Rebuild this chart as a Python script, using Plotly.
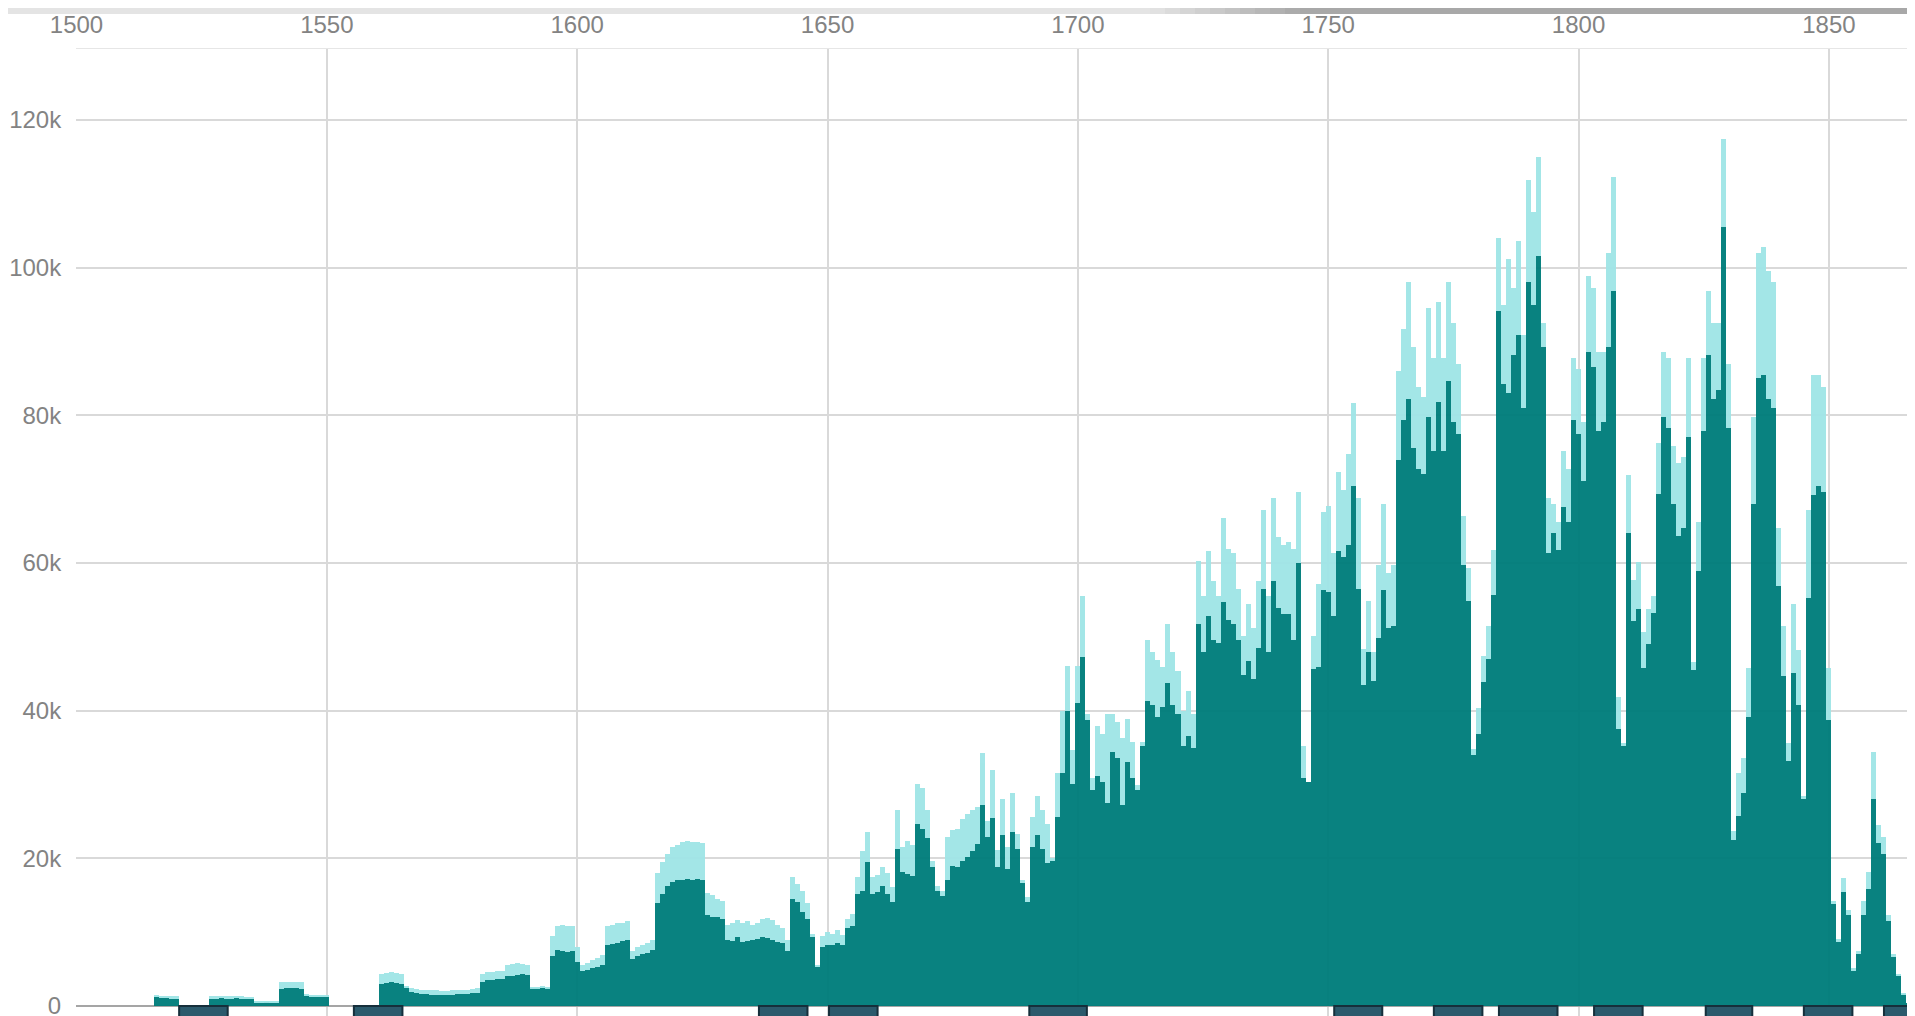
import plotly.graph_objects as go

# ---------------- data (values in thousands, one value per year) ----------------
years = list(range(1510, 1870))

# dark teal series (lower stack)
dark_k = [
    0, 0, 0, 0, 0, 0, 1.2, 1.1, 1.1, 1.0,                 # 1510s
    1.0, 0, 0, 0, 0, 0, 0, 1.0, 1.0, 1.1,                 # 1520s
    1.0, 1.0, 1.1, 1.0, 1.0, 0.9, 0.45, 0.45, 0.5, 0.45,  # 1530s
    0.45, 2.3, 2.4, 2.4, 2.4, 2.3, 1.3, 1.2, 1.2, 1.2,    # 1540s
    1.2, 0, 0, 0, 0, 0, 0, 0, 0, 0,                       # 1550s
    0, 3.0, 3.1, 3.2, 3.1, 3.0, 2.4, 1.9, 1.7, 1.6,       # 1560s
    1.6, 1.5, 1.5, 1.5, 1.5, 1.5, 1.6, 1.6, 1.6, 1.7,     # 1570s
    1.8, 3.3, 3.5, 3.5, 3.6, 3.7, 4.0, 4.1, 4.2, 4.3,     # 1580s
    4.2, 2.4, 2.4, 2.5, 2.4, 6.8, 7.6, 7.5, 7.3, 7.4,     # 1590s
    6.0, 4.8, 4.9, 5.1, 5.3, 5.6, 8.2, 8.4, 8.6, 8.8,     # 1600s
    9.0, 6.4, 6.8, 7.0, 7.2, 7.6, 14.0, 15.2, 16.2, 16.8, # 1610s
    17.0, 17.1, 17.2, 17.1, 17.2, 17.1, 12.3, 12.1, 12.0, 11.8,  # 1620s
    9.0, 8.8, 9.3, 8.7, 8.8, 8.9, 9.1, 9.4, 9.2, 9.0,     # 1630s
    8.7, 8.5, 7.5, 14.5, 14.1, 12.7, 11.8, 9.4, 5.3, 8.0, # 1640s
    8.2, 8.3, 8.6, 8.2, 10.5, 10.9, 15.2, 15.6, 19.5, 15.2,      # 1650s
    15.4, 16.2, 15.2, 14.1, 21.3, 18.2, 17.9, 17.6, 24.7, 24.0,  # 1660s
    22.8, 18.8, 15.6, 14.9, 17.0, 19.0, 18.8, 19.6, 20.2, 21.0,  # 1670s
    22.0, 27.2, 22.9, 25.4, 18.8, 23.1, 18.6, 23.6, 21.3, 16.6,  # 1680s
    14.1, 21.5, 23.1, 21.3, 19.3, 19.7, 25.6, 31.5, 40.0, 30.0,  # 1690s
    41.0, 47.2, 38.7, 29.3, 31.2, 30.4, 27.5, 34.4, 33.6, 27.2,  # 1700s
    33.1, 30.9, 29.3, 35.2, 41.3, 40.8, 39.2, 40.5, 43.7, 40.8,  # 1710s
    39.5, 35.2, 36.5, 34.9, 51.7, 48.0, 52.8, 49.6, 49.1, 54.7,  # 1720s
    52.3, 51.7, 49.6, 44.8, 46.7, 44.3, 48.5, 56.5, 48.0, 57.6,  # 1730s
    53.9, 53.1, 53.1, 49.6, 60.0, 30.9, 30.4, 45.6, 45.9, 56.3,  # 1740s
    56.0, 52.8, 61.6, 60.8, 62.4, 70.4, 56.5, 43.5, 48.0, 44.0,  # 1750s
    49.9, 56.3, 51.2, 51.5, 74.0, 79.4, 82.2, 75.5, 72.7, 72.0,  # 1760s
    79.8, 75.1, 81.8, 75.1, 84.6, 79.1, 77.5, 59.7, 54.9, 34.0,  # 1770s
    36.8, 43.9, 47.0, 55.7, 94.1, 84.2, 83.0, 88.1, 90.9, 81.0,  # 1780s
    98.0, 94.9, 101.6, 89.3, 61.3, 64.0, 61.7, 67.6, 65.6, 79.4, # 1790s
    77.5, 71.1, 88.5, 86.6, 77.9, 79.1, 89.3, 96.8, 37.5, 35.2,  # 1800s
    64.0, 52.2, 53.8, 45.8, 49.0, 53.2, 69.4, 79.8, 78.3, 68.0,  # 1810s
    63.6, 64.8, 77.1, 45.5, 58.9, 77.9, 88.1, 82.2, 83.4, 105.5, # 1820s
    78.3, 22.5, 25.7, 28.9, 39.1, 68.0, 85.0, 85.4, 82.2, 81.0,  # 1830s
    56.9, 44.7, 33.2, 45.1, 40.7, 28.1, 55.3, 69.2, 70.4, 69.6,  # 1840s
    38.7, 13.8, 8.7, 15.4, 12.3, 4.7, 7.1, 12.3, 15.8, 28.1,     # 1850s
    22.1, 20.6, 11.5, 6.7, 4.0, 1.6, 0.4, 0, 0, 0,               # 1860s
]

# total height (dark + light cyan on top)
total_k = [
    0, 0, 0, 0, 0, 0, 1.5, 1.4, 1.4, 1.3,
    1.3, 0, 0, 0, 0, 0, 0, 1.3, 1.3, 1.4,
    1.3, 1.3, 1.3, 1.3, 1.2, 1.2, 0.6, 0.6, 0.65, 0.6,
    0.6, 3.2, 3.3, 3.3, 3.3, 3.2, 1.6, 1.5, 1.5, 1.5,
    1.5, 0, 0, 0, 0, 0, 0, 0, 0, 0,
    0, 4.3, 4.5, 4.6, 4.5, 4.4, 2.7, 2.5, 2.3, 2.2,
    2.2, 2.1, 2.1, 2.0, 2.0, 2.1, 2.1, 2.2, 2.2, 2.3,
    2.4, 4.4, 4.6, 4.6, 4.7, 4.8, 5.5, 5.7, 5.8, 5.7,
    5.6, 2.6, 2.6, 2.7, 2.6, 9.5, 10.8, 11.0, 10.9, 10.8,
    8.0, 5.5, 5.8, 6.2, 6.5, 6.9, 10.8, 11.0, 11.2, 11.3,
    11.5, 7.5, 8.0, 8.3, 8.5, 8.9, 18.0, 19.5, 20.6, 21.5,
    21.8, 22.2, 22.3, 22.2, 22.2, 22.1, 15.3, 15.0, 14.5, 14.2,
    11.0, 11.2, 11.6, 11.3, 11.5, 11.0, 11.2, 11.8, 11.9, 11.6,
    11.0, 10.6, 8.9, 17.5, 16.5, 15.6, 14.0, 9.8, 5.5, 9.5,
    10.0, 9.8, 10.3, 9.6, 11.8, 12.5, 17.5, 21.0, 23.6, 17.5,
    17.8, 18.8, 18.0, 16.1, 26.5, 21.5, 22.3, 21.8, 30.1, 29.5,
    26.5, 19.7, 16.2, 15.6, 22.9, 23.8, 24.0, 25.3, 26.0, 26.5,
    27.0, 34.2, 25.1, 31.9, 21.1, 28.1, 21.5, 28.8, 23.3, 17.0,
    14.8, 25.6, 28.4, 26.5, 24.7, 20.0, 31.5, 40.0, 46.0, 34.7,
    46.0, 55.5, 39.5, 30.9, 37.9, 36.8, 39.5, 39.5, 38.4, 36.3,
    38.9, 35.7, 29.9, 35.7, 49.6, 48.0, 46.9, 45.9, 51.7, 48.0,
    45.3, 40.0, 42.7, 39.5, 60.3, 55.5, 61.6, 57.6, 55.5, 66.1,
    61.9, 61.3, 56.5, 50.1, 54.4, 51.2, 57.6, 67.2, 55.5, 68.8,
    63.5, 62.4, 62.9, 61.9, 69.6, 35.2, 30.4, 50.1, 57.1, 66.9,
    67.7, 61.3, 72.3, 69.9, 74.7, 81.6, 68.8, 48.3, 54.9, 48.0,
    59.7, 68.0, 58.7, 59.7, 86.0, 91.7, 98.0, 89.3, 83.8, 82.5,
    94.5, 87.7, 95.3, 87.7, 98.0, 92.5, 87.0, 66.4, 59.3, 34.8,
    40.3, 47.4, 51.4, 61.7, 104.0, 94.9, 101.2, 97.2, 103.6, 90.9,
    111.9, 107.5, 115.0, 92.5, 68.8, 68.0, 65.6, 75.1, 72.7, 87.7,
    86.2, 79.1, 98.8, 97.2, 88.5, 88.5, 102.0, 112.3, 41.9, 35.6,
    71.9, 57.7, 60.1, 50.6, 53.8, 55.5, 76.3, 88.5, 87.7, 75.9,
    73.5, 74.3, 87.7, 46.6, 65.6, 87.7, 96.8, 92.5, 92.5, 117.4,
    87.0, 23.7, 31.6, 33.6, 45.8, 79.8, 102.0, 102.8, 99.6, 98.0,
    64.8, 51.4, 35.6, 54.5, 48.2, 28.5, 67.2, 85.4, 85.4, 83.8,
    45.8, 14.2, 9.1, 17.4, 13.0, 5.1, 7.5, 14.2, 18.2, 34.4,
    24.5, 22.9, 12.3, 7.1, 4.3, 1.7, 0.4, 0, 0, 0,
]

# periods marked by dark blocks under the axis
period_starts = [1520.5, 1555.4, 1636.3, 1650.3, 1690.3, 1751.2, 1771.1, 1784.1, 1803.1, 1825.4, 1845.0, 1861.0]
period_ends   = [1530.2, 1565.1, 1646.0, 1660.0, 1701.8, 1760.8, 1780.8, 1795.8, 1812.8, 1834.7, 1854.7, 1872.0]

x_ticks = [1500, 1550, 1600, 1650, 1700, 1750, 1800, 1850]
y_ticks = [0, 20000, 40000, 60000, 80000, 100000, 120000]

# ---------------- figure ----------------
dark_vals = [d * 1000 for d in dark_k]
light_vals = [max(t - d, 0) * 1000 for d, t in zip(dark_k, total_k)]

fig = go.Figure()
fig.add_trace(go.Bar(x=years, y=dark_vals, marker=dict(color="rgb(0,125,123)", line=dict(width=0)),
                     opacity=0.96, name="dark"))
fig.add_trace(go.Bar(x=years, y=light_vals, marker=dict(color="rgb(160,229,231)", line=dict(width=0)),
                     opacity=0.96, name="light"))

# the page body adds an 8px offset, so margins are reduced by 8
OFF = 8
W, H = 1915, 1016
ML, MT, MB, MR = 76 - OFF, 49 - OFF, OFF, OFF
PW, PH = W - ML - MR, H - MT - MB

shapes = []
for s, e in zip(period_starts, period_ends):
    shapes.append(dict(type="rect", xref="x", yref="y", x0=s, x1=e, y0=0, y1=-6000,
                       fillcolor="#2b5a6c", line=dict(color="#162f3b", width=2), layer="above"))

# top scrollbar-like strip (figure pixel coordinates -> paper)
def px_to_paper_x(px):
    return (px - ML) / PW

def px_to_paper_y(py):
    return (H - MB - py) / PH

bar_y0, bar_y1 = px_to_paper_y(6), px_to_paper_y(0)
shapes.append(dict(type="rect", xref="paper", yref="paper", x0=px_to_paper_x(0), x1=px_to_paper_x(1142),
                   y0=bar_y0, y1=bar_y1, fillcolor="#e4e4e4", line=dict(width=0), layer="above"))
steps = 10
for i in range(steps):
    a = px_to_paper_x(1142 + i * 15)
    b = px_to_paper_x(1142 + (i + 1) * 15 + 1)
    c = int(228 - (228 - 168) * (i + 0.5) / steps)
    shapes.append(dict(type="rect", xref="paper", yref="paper", x0=a, x1=b, y0=bar_y0, y1=bar_y1,
                       fillcolor=f"rgb({c},{c},{c})", line=dict(width=0), layer="above"))
shapes.append(dict(type="rect", xref="paper", yref="paper", x0=px_to_paper_x(1292), x1=px_to_paper_x(W),
                   y0=bar_y0, y1=bar_y1, fillcolor="#a8a8a8", line=dict(width=0), layer="above"))

tick_font = dict(family="Liberation Sans, Arial, sans-serif", size=24, color="#838383")

fig.update_layout(
    width=W, height=H, autosize=False,
    margin=dict(l=ML, r=MR, t=MT, b=MB, pad=0),
    paper_bgcolor="white", plot_bgcolor="white",
    barmode="stack", bargap=0, showlegend=False,
    shapes=shapes,
    xaxis=dict(side="top", range=[1499.9, 1867.2], tickvals=x_ticks, ticktext=[str(v) for v in x_ticks],
               automargin=False,
               showgrid=True, gridcolor="#d9d9d9", gridwidth=1.5, zeroline=False,
               showline=True, linecolor="#e6e6e6", linewidth=1,
               ticks="outside", ticklen=5, tickcolor="rgba(0,0,0,0)", tickfont=tick_font),
    yaxis=dict(range=[-1354, 129600], tickvals=y_ticks, tickformat="~s", automargin=False,
               showgrid=True, gridcolor="#d9d9d9", gridwidth=1.5,
               zeroline=True, zerolinecolor="#a5a5a5", zerolinewidth=2,
               ticks="outside", ticklen=9, tickcolor="rgba(0,0,0,0)", tickfont=tick_font),
)

fig.write_html("out.html")
